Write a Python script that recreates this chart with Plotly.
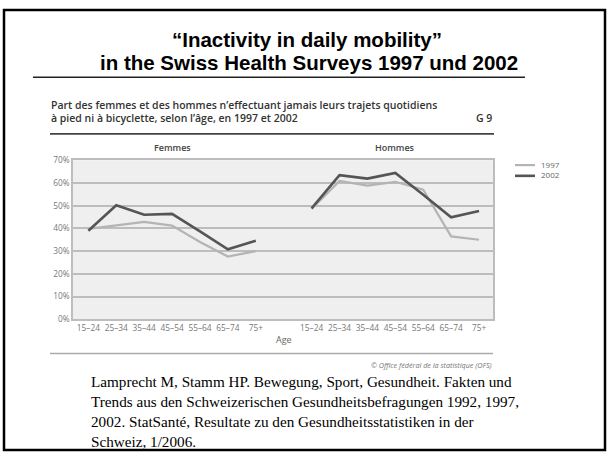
import plotly.graph_objects as go

W, H = 609, 459

ages = ["15–24", "25–34", "35–44", "45–54", "55–64", "65–74", "75+"]
femmes_1997 = [39.8, 41.2, 42.9, 41.2, 34.0, 27.6, 30.0]
femmes_2002 = [39.0, 50.2, 46.0, 46.4, 38.7, 30.8, 34.6]
hommes_1997 = [48.5, 60.9, 58.8, 60.5, 57.0, 36.5, 35.0]
hommes_2002 = [48.8, 63.4, 61.9, 64.4, 54.8, 44.9, 47.7]
years = ["1997", "2002"]
yticks = [0, 10, 20, 30, 40, 50, 60, 70]

title1 = "“Inactivity in daily mobility”"
title2 = "in the Swiss Health Surveys 1997 und 2002"
subtitle1 = "Part des femmes et des hommes n’effectuant jamais leurs trajets quotidiens"
subtitle2 = "à pied ni à bicyclette, selon l’âge, en 1997 et 2002"
citation = [
    "Lamprecht M, Stamm HP. Bewegung, Sport, Gesundheit. Fakten und",
    "Trends aus den Schweizerischen Gesundheitsbefragungen 1992, 1997,",
    "2002. StatSanté, Resultate zu den Gesundheitsstatistiken in der",
    "Schweiz, 1/2006.",
]

def px(x):
    return x / W

def py(y):
    return 1 - y / H

n = len(ages)
x_f = list(range(n))
x_h = [i + n + 1 for i in range(n)]

colors = {"1997": "#b4b4b4", "2002": "#555555"}
widths = {"1997": 2.2, "2002": 2.6}

fig = go.Figure()
for xs, s97, s02 in [(x_f, femmes_1997, femmes_2002), (x_h, hommes_1997, hommes_2002)]:
    for yr, vals in zip(years, [s97, s02]):
        fig.add_trace(go.Scatter(x=xs, y=vals, mode="lines", name=yr, showlegend=False,
                                 line=dict(color=colors[yr], width=widths[yr])))

sans = "Open Sans"
fig.update_layout(
    width=W, height=H,
    margin=dict(l=0, r=0, t=0, b=0),
    paper_bgcolor="white",
    plot_bgcolor="#efefef",
    showlegend=False,
    xaxis=dict(domain=[px(73), px(493)], range=[-0.55, 14.5],
               tickvals=x_f + x_h, ticktext=ages + ages,
               tickfont=dict(family=sans, size=8.3, color="#777"),
               showgrid=False, zeroline=False, ticks="",
               showline=True, mirror=True, linecolor="#bdbdbd", linewidth=1.5),
    yaxis=dict(domain=[py(321), py(158)], range=[0, 70],
               tickvals=yticks, ticktext=[f"{v}%" for v in yticks],
               tickfont=dict(family=sans, size=8.3, color="#777"),
               showgrid=True, gridcolor="#bdbdbd", gridwidth=1.5,
               zeroline=False, ticks="",
               showline=True, mirror=True, linecolor="#bdbdbd", linewidth=1.5),
)

def note(text, x, y, size, anchor="left", xref="paper", family=sans, color="#333", weight=None):
    f = dict(family=family, size=size, color=color)
    if weight:
        f["weight"] = weight
    return dict(text=text, x=x, y=y, xref=xref, yref="paper", showarrow=False,
                xanchor=anchor, yanchor="middle", font=f)

ann = [
    note("<b>" + title1 + "</b>", px(307), py(34), 20.5, "center", family="Liberation Sans", color="black"),
    note("<b>" + title2 + "</b>", px(309), py(58), 20.5, "center", family="Liberation Sans", color="black"),
    note(subtitle1, px(49), py(101), 10.5, weight=600),
    note(subtitle2, px(49), py(115), 10.5, weight=600),
    note("G 9", px(494), py(115), 10.5, "right", weight=600),
    note("Femmes", 3, py(145), 9, "center", xref="x", color="#444", weight=600),
    note("Hommes", x_h[3], py(145), 9, "center", xref="x", color="#444", weight=600),
    note("Age", n, py(342), 9, "center", xref="x", color="#666"),
    note("<i>© Office fédéral de la statistique (OFS)</i>", px(494), py(368), 7.2, "right", color="#777"),
]
for i, line in enumerate(citation):
    ann.append(note(line, px(89), py(385 + 20.3 * i), 15.2, family="Liberation Serif", color="black"))

shapes = [
    dict(type="rect", xref="paper", yref="paper", x0=px(4), x1=px(605), y0=py(455), y1=py(4),
         line=dict(color="black", width=2.5)),
    dict(type="line", xref="paper", yref="paper", x0=px(33), x1=px(525), y0=py(73), y1=py(73),
         line=dict(color="#222", width=1.5)),
    dict(type="line", xref="paper", yref="paper", x0=px(50), x1=px(494), y0=py(131), y1=py(131),
         line=dict(color="#444", width=1.8)),
    dict(type="line", xref="paper", yref="paper", x0=px(50), x1=px(493), y0=py(356), y1=py(356),
         line=dict(color="#aaa", width=1.5)),
]

# legend
for i, yr in enumerate(years):
    ly = 163 + 11 * i
    shapes.append(dict(type="line", xref="paper", yref="paper", x0=px(515), x1=px(535),
                       y0=py(ly), y1=py(ly), line=dict(color=colors[yr], width=widths[yr])))
    ann.append(note(yr, px(539), py(ly - 1), 8, color="#666"))

fig.update_layout(annotations=ann, shapes=shapes)

fig.write_html("out.html", config={"displayModeBar": False},
               post_script="document.body.style.margin='0px';document.body.style.overflow='hidden';")
